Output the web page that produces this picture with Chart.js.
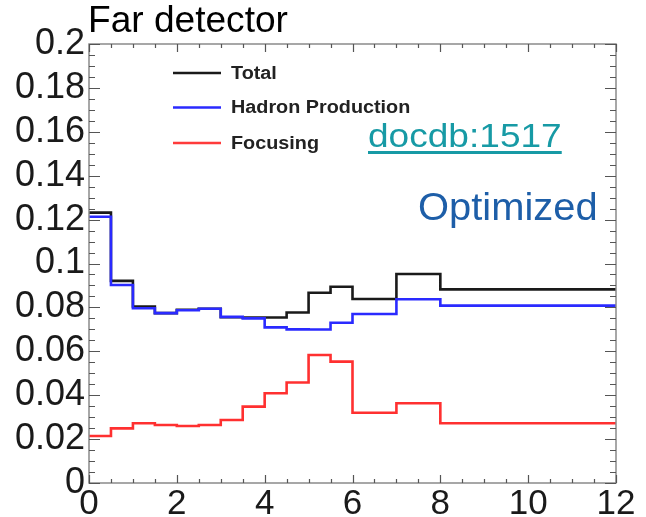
<!DOCTYPE html>
<html>
<head>
<meta charset="utf-8">
<script src="https://cdn.jsdelivr.net/npm/chart.js@4/dist/chart.umd.min.js"></script>
<style>
  html, body { margin: 0; padding: 0; background: #fff; }
  #wrap { position: relative; width: 646px; height: 517px; overflow: hidden; }
  canvas { position: absolute; left: 0; top: 0; }
  .txt { position: absolute; white-space: nowrap; line-height: 1; font-family: "Liberation Sans", Arial, sans-serif; transform-origin: 0 0; }
</style>
</head>
<body>
<div id="wrap">
  <canvas id="c" width="646" height="517"></canvas>
  <div class="txt" id="title" style="left:88px; top:2px; font-size:36px; color:#000; transform: scaleX(1.03);">Far detector</div>
  <div class="txt" id="doc" style="left:368px; top:118px; font-size:34px; color:#179aa5; text-decoration: underline; text-decoration-thickness: 3px; text-underline-offset: 4px; transform: scaleX(1.09);">docdb:1517</div>
  <div class="txt" id="opt" style="left:418px; top:188px; font-size:38px; color:#1d5ea8; transform: scaleX(1.05);">Optimized</div>
</div>
<script>
// Bin edges (x) and per-bin values
const binEdges = [0, 0.5, 1, 1.5, 2, 2.5, 3, 3.5, 4, 4.5, 5, 5.5, 6, 7, 8, 12];
const totalValues =    [0.1232, 0.0921, 0.0804, 0.0774, 0.0789, 0.0794, 0.0755, 0.0754, 0.0754, 0.0777, 0.0867, 0.0894, 0.0838, 0.0952, 0.0882];
const hadronValues =   [0.1213, 0.0902, 0.0796, 0.0774, 0.0787, 0.0794, 0.0757, 0.0750, 0.0709, 0.0700, 0.0699, 0.0730, 0.0770, 0.0837, 0.0808];
const focusingValues = [0.0214, 0.0249, 0.0272, 0.0264, 0.0260, 0.0264, 0.0287, 0.0348, 0.0409, 0.0458, 0.0583, 0.0553, 0.0320, 0.0363, 0.0272];
const seriesNames = ["Total", "Hadron Production", "Focusing"];
const xTickLabels = ["0", "2", "4", "6", "8", "10", "12"];
const yTickLabels = ["0", "0.02", "0.04", "0.06", "0.08", "0.1", "0.12", "0.14", "0.16", "0.18", "0.2"];

// a point at the start of each bin, plus one closing point at the last edge
function stepPoints(vals) {
  const pts = vals.map((v, i) => ({ x: binEdges[i], y: v }));
  pts.push({ x: binEdges[binEdges.length - 1], y: vals[vals.length - 1] });
  return pts;
}

const FONT = '"Liberation Sans", Arial, sans-serif';

const frameTicks = {
  id: 'frameTicks',
  afterDatasetsDraw(chart) {
    const ctx = chart.ctx;
    const xs = chart.scales.x, ys = chart.scales.y;
    const a = chart.chartArea;
    ctx.save();
    ctx.strokeStyle = '#8a8a8a';
    ctx.lineWidth = 1.5;
    ctx.strokeRect(a.left, a.top, a.right - a.left, a.bottom - a.top);
    ctx.strokeStyle = '#555';
    ctx.lineWidth = 1.2;
    ctx.beginPath();
    for (let i = 0; i <= 40; i++) {
      const v = i * 0.005;
      const py = Math.round(ys.getPixelForValue(v)) + 0.5;
      const len = (i % 4 === 0) ? 11 : 6;
      ctx.moveTo(a.left, py); ctx.lineTo(a.left + len, py);
      ctx.moveTo(a.right, py); ctx.lineTo(a.right - len, py);
    }
    for (let i = 0; i <= 24; i++) {
      const v = i * 0.5;
      const px = Math.round(xs.getPixelForValue(v)) + 0.5;
      const len = (i % 4 === 0) ? 8 : 4;
      ctx.moveTo(px, a.bottom); ctx.lineTo(px, a.bottom - len);
      ctx.moveTo(px, a.top); ctx.lineTo(px, a.top + len);
    }
    ctx.stroke();
    ctx.restore();
  }
};

const legendPlugin = {
  id: 'rootLegend',
  afterDatasetsDraw(chart) {
    const ctx = chart.ctx;
    const rows = [
      { name: seriesNames[0], color: '#1a1a1a', y: 73 },
      { name: seriesNames[1], color: '#2a2aff', y: 107.5 },
      { name: seriesNames[2], color: '#ff3b3b', y: 143 }
    ];
    ctx.save();
    rows.forEach(r => {
      ctx.strokeStyle = r.color;
      ctx.lineWidth = 2.5;
      ctx.beginPath();
      ctx.moveTo(173, r.y); ctx.lineTo(221, r.y);
      ctx.stroke();
      ctx.save();
      ctx.translate(231, r.y + 1);
      ctx.scale(1.1, 1);
      ctx.fillStyle = '#222';
      ctx.font = 'bold 18px ' + FONT;
      ctx.textBaseline = 'middle';
      ctx.textAlign = 'left';
      ctx.fillText(r.name, 0, 0);
      ctx.restore();
    });
    ctx.restore();
  }
};

new Chart(document.getElementById('c'), {
  type: 'line',
  data: {
    datasets: [
      { label: seriesNames[1], data: stepPoints(hadronValues), borderColor: '#2a2aff' },
      { label: seriesNames[0], data: stepPoints(totalValues), borderColor: '#1a1a1a' },
      { label: seriesNames[2], data: stepPoints(focusingValues), borderColor: '#ff3030' }
    ].map(d => Object.assign(d, { stepped: 'before', pointRadius: 0, borderWidth: 2.6, fill: false, tension: 0 }))
  },
  options: {
    responsive: false,
    animation: false,
    devicePixelRatio: 1,
    layout: { padding: { top: 44, right: 30, left: 0, bottom: 0 } },
    plugins: { legend: { display: false }, tooltip: { enabled: false } },
    scales: {
      x: {
        type: 'linear', min: 0, max: 12,
        border: { display: false },
        grid: { display: false, drawTicks: false },
        ticks: {
          stepSize: 2, padding: 0, color: '#1a1a1a', maxRotation: 0, autoSkip: false,
          font: { family: FONT, size: 35 },
          callback: (v) => xTickLabels[Math.round(v / 2)]
        },
        afterFit: (s) => { s.height = 34; }
      },
      y: {
        type: 'linear', min: 0, max: 0.2,
        border: { display: false },
        grid: { display: false, drawTicks: false },
        ticks: {
          stepSize: 0.02, padding: 4, color: '#1a1a1a', autoSkip: false,
          font: { family: FONT, size: 36 },
          callback: (v) => yTickLabels[Math.round(v / 0.02)]
        },
        afterFit: (s) => { s.width = 89; }
      }
    }
  },
  plugins: [frameTicks, legendPlugin]
});
</script>
</body>
</html>
